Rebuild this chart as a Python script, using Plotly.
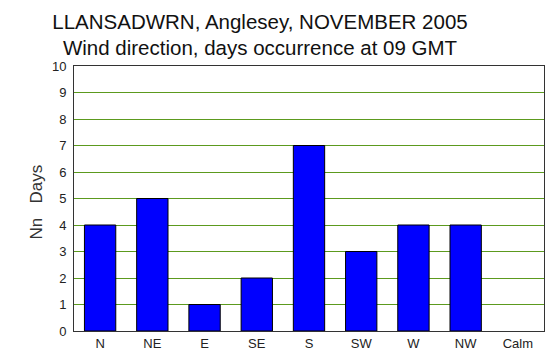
import plotly.graph_objects as go

directions = ["N", "NE", "E", "SE", "S", "SW", "W", "NW", "Calm"]
days = [4, 5, 1, 2, 7, 3, 4, 4, 0]
y_ticks = list(range(0, 11))

# page body has an 8px default margin, so the figure is sized to fit the window
fig = go.Figure()
fig.add_trace(go.Bar(
    x=directions, y=days,
    marker=dict(color="#0000ff",
                line=dict(color="#000000", width=[1 if d > 0 else 0 for d in days])),
    width=0.6,
))

fig.update_layout(
    width=551, height=355,
    margin=dict(l=66, r=15, t=57.5, b=29.5),
    paper_bgcolor="white", plot_bgcolor="white",
    font=dict(family="Liberation Sans, Arial, sans-serif", color="#222222", size=13),
    showlegend=False,
    title=dict(
        text="LLANSADWRN, Anglesey, NOVEMBER 2005<br>Wind direction, days occurrence at 09 GMT",
        x=252/551, xanchor="center", yref="container", y=0.942, yanchor="top",
        font=dict(size=20.5, color="#111111"),
    ),
    xaxis=dict(
        showgrid=False, showline=True, linecolor="#333333", linewidth=1,
        mirror=True, ticks="", tickfont=dict(size=13),
    ),
    yaxis=dict(
        range=[0, 10], tickvals=y_ticks, showgrid=True, gridcolor="#5c9a1e",
        gridwidth=1, showline=True, linecolor="#333333", linewidth=1,
        mirror=True, ticks="", tickfont=dict(size=13), zeroline=False,
        ticklabelstandoff=4,
    ),
    annotations=[dict(
        text="Nn\u00a0\u00a0\u00a0Days", textangle=-90, showarrow=False,
        xref="paper", yref="paper", x=0, y=0.5, xanchor="center", yanchor="middle",
        xshift=-38, yshift=-4, font=dict(size=17, color="#333333"),
    )],
)

fig.write_html("out.html")
